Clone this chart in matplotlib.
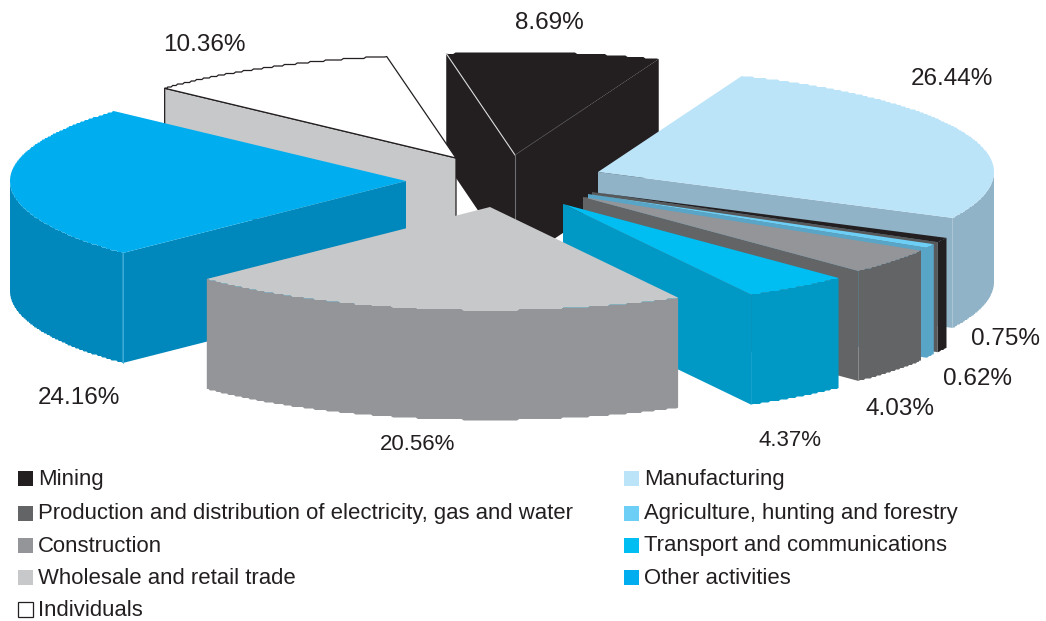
import numpy as np
import matplotlib
matplotlib.use("Agg")
import matplotlib.pyplot as plt
from matplotlib.patches import Polygon, Rectangle

plt.rcParams["font.family"] = ["Liberation Sans", "DejaVu Sans"]

# values, clockwise from the mining slice
slices = ["Mining", "Manufacturing", "Electricity", "Agriculture", "Construction",
          "Transport", "Wholesale", "Other", "Individuals"]
shares = [8.69, 26.44, 0.75, 0.62, 4.03, 4.37, 20.56, 24.16, 10.36]
share_labels = ["8.69%", "26.44%", "0.75%", "0.62%", "4.03%", "4.37%", "20.56%", "24.16%", "10.36%"]

legend_left = ["Mining", "Production and distribution of electricity, gas and water",
               "Construction", "Wholesale and retail trade", "Individuals"]
legend_right = ["Manufacturing", "Agriculture, hunting and forestry",
                "Transport and communications", "Other activities"]

# pie geometry in pixels
START = -10.0
RX, RY = 396.0, 103.0
DEPTH = 110.0
STEP = 1.5  # the rim of the original is slightly stepped

apex = {"Mining": (515, 155), "Manufacturing": (598, 172), "Electricity": (592, 192),
        "Agriculture": (588, 194), "Construction": (583, 197), "Transport": (563, 204),
        "Wholesale": (490, 207), "Other": (406, 181), "Individuals": (456, 158)}
# top, rim, cut face
colors = {"Mining": ("#231f20", "#231f20", "#231f20"),
          "Manufacturing": ("#bce4f9", "#90b3c7", "#90b3c7"),
          "Electricity": ("#231f20", "#231f20", "#58595b"),
          "Agriculture": ("#6dcff6", "#59a5c8", "#59a5c8"),
          "Construction": ("#939598", "#636466", "#636466"),
          "Transport": ("#00bdf2", "#0099c6", "#0099c6"),
          "Wholesale": ("#c7c8ca", "#939598", "#939598"),
          "Other": ("#00aeef", "#0087bb", "#0087bb"),
          "Individuals": ("#ffffff", "#c7c8ca", "#c7c8ca")}
draw_order = ["Mining", "Individuals", "Manufacturing", "Electricity", "Agriculture",
              "Construction", "Transport", "Other", "Wholesale"]

edges = START + np.concatenate([[0], np.cumsum(shares)]) * 3.6


def rim(name, a0, a1):
    a = np.radians(np.linspace(a0, a1, max(int(a1 - a0) * 3, 2)))
    cx, cy = apex[name]
    x = cx + RX * np.sin(a)
    y = cy - RY * np.cos(a)
    return x, y


def stepped(y):
    ys = y.copy()
    ys[1:-1] = np.round(y[1:-1] / STEP) * STEP
    return ys


fig = plt.figure(figsize=(10.46, 6.21), dpi=100)
ax = fig.add_axes([0, 0, 1, 1])
ax.set_xlim(0, 1046)
ax.set_ylim(621, 0)
ax.axis("off")

for name in draw_order:
    i = slices.index(name)
    a0, a1 = edges[i], edges[i + 1]
    top, side, cut = colors[name]
    cx, cy = apex[name]
    x, y = rim(name, a0, a1)
    outline = name == "Individuals"

    # front wall, only the part of the rim that faces us
    f0, f1 = max(a0, 90), min(a1, 270)
    if f1 > f0:
        fx, fy = rim(name, f0, f1)
        fy = stepped(fy)
        pts = np.r_[np.c_[fx, fy], np.c_[fx[::-1], fy[::-1] + DEPTH]]
        ax.add_patch(Polygon(pts, closed=True, fc=side, ec="none", zorder=1))

    # cut faces
    for ang, normal in ((a0, a0 - 90), (a1, a1 + 90)):
        if np.cos(np.radians(normal)) < 0:
            ex = cx + RX * np.sin(np.radians(ang))
            ey = cy - RY * np.cos(np.radians(ang))
            pts = [(cx, cy), (ex, ey), (ex, ey + DEPTH), (cx, cy + DEPTH)]
            ax.add_patch(Polygon(pts, closed=True, fc=cut,
                                 ec="#231f20" if outline else "none", lw=0.9, zorder=1))

    pts = np.r_[[(cx, cy)], np.c_[x, stepped(y)]]
    ax.add_patch(Polygon(pts, closed=True, fc=top,
                         ec="#231f20" if outline else "none", lw=0.9, zorder=1))

    if name == "Mining":
        # thin seams between the black faces
        ex0 = cx + RX * np.sin(np.radians(a0))
        ey0 = cy - RY * np.cos(np.radians(a0))
        ex1 = cx + RX * np.sin(np.radians(a1))
        ey1 = cy - RY * np.cos(np.radians(a1))
        ax.plot([cx, ex0], [cy, ey0], color="#d9d9d9", lw=0.8, zorder=1)
        ax.plot([cx, (cx + ex1) / 2], [cy, (cy + ey1) / 2], color="#4a4a4a", lw=0.5, zorder=1)
        ax.plot([cx, cx], [cy, cy + DEPTH], color="#6d6e71", lw=0.8, zorder=1)
    if name == "Other":
        ex0 = cx + RX * np.sin(np.radians(a0))
        ey0 = cy - RY * np.cos(np.radians(a0))
        ax.plot([ex0, ex0], [ey0, ey0 + DEPTH], color="#45b3de", lw=0.6, zorder=1)

# value labels, placed by hand around the pie
label_pos = {"8.69%": (549, 23, 17.5), "26.44%": (952, 79, 17.5), "0.75%": (1006, 339, 17.5),
             "0.62%": (978, 379, 17.5), "4.03%": (900, 409, 17.5), "4.37%": (790, 441, 16),
             "20.56%": (418, 444, 16), "24.16%": (79, 398, 17.5), "10.36%": (204, 45, 17.5)}
for lab in share_labels:
    px, py, fs = label_pos[lab]
    ax.text(px, py, lab, ha="center", va="center", fontsize=fs, color="#231f20")

# legend
left_colors = ["#231f20", "#636466", "#939598", "#c7c8ca", "#ffffff"]
right_colors = ["#bce4f9", "#6dcff6", "#00bdf2", "#00aeef"]
rows = [478, 513, 545, 577, 609]
for lab, col, ry in zip(legend_left, left_colors, rows):
    ax.add_patch(Rectangle((18, ry - 7.5), 15, 15, fc=col,
                           ec="#231f20" if col == "#ffffff" else "none", lw=0.9))
    ax.text(38, ry + 1, lab, ha="left", va="center", fontsize=15.9, color="#231f20")
for lab, col, ry in zip(legend_right, right_colors, rows):
    ax.add_patch(Rectangle((624, ry - 7.5), 15, 15, fc=col, ec="none"))
    ax.text(644, ry + 1, lab, ha="left", va="center", fontsize=15.9, color="#231f20")

fig.savefig("out.png", dpi=100)
